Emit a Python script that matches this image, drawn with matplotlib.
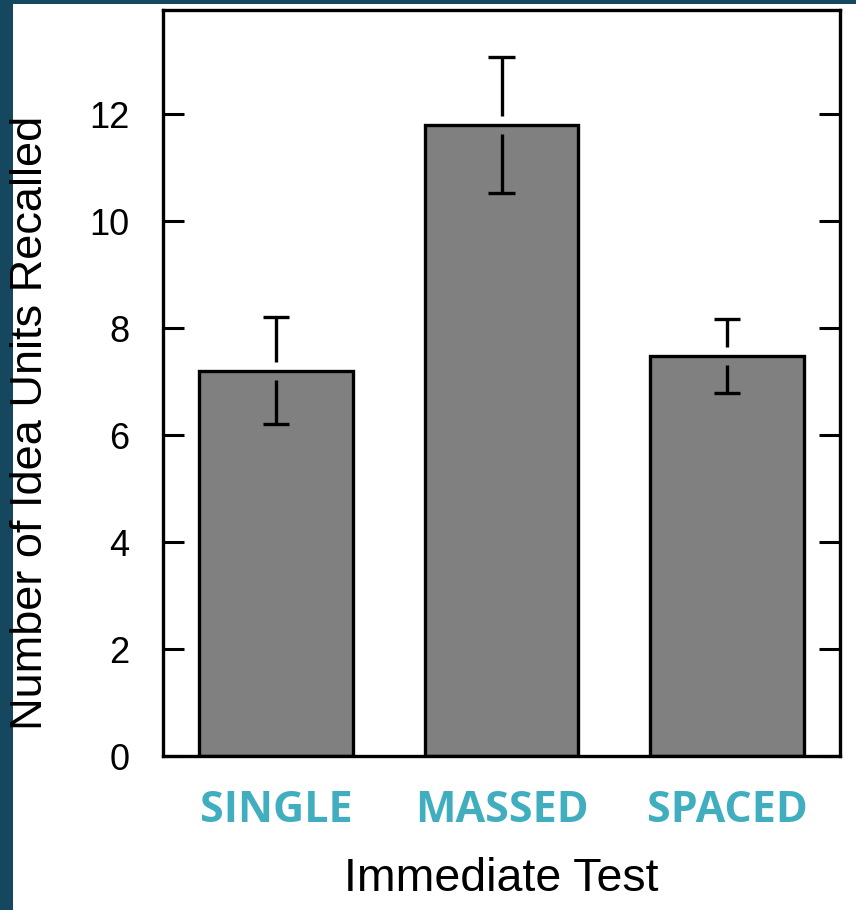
import matplotlib
matplotlib.use("Agg")
import matplotlib.pyplot as plt
from matplotlib.patches import Rectangle

# Mean idea units recalled on the immediate test, with error bars
conditions = ["SINGLE", "MASSED", "SPACED"]
means = [7.2, 11.8, 7.48]
errors = [1.0, 1.28, 0.69]
yticks = [0, 2, 4, 6, 8, 10, 12]

W, H, DPI = 856, 910, 100
fig = plt.figure(figsize=(W / DPI, H / DPI), dpi=DPI)
fig.patch.set_facecolor("white")

# dark frame strips along the left and top edges
frame_col = "#15475f"
fig.add_artist(Rectangle((0, 0), 12.5 / W, 1, transform=fig.transFigure,
                         facecolor=frame_col, edgecolor="none", zorder=0))
fig.add_artist(Rectangle((0, 1 - 3.5 / H), 1, 3.5 / H, transform=fig.transFigure,
                         facecolor=frame_col, edgecolor="none", zorder=0))

left, right = 163 / W, 840 / W
bottom, top = 1 - 756 / H, 1 - 10 / H
ax = fig.add_axes([left, bottom, right - left, top - bottom])

x = list(range(len(conditions)))
ax.bar(x, means, width=0.68, color="#808080", edgecolor="black",
       linewidth=2.4, zorder=2)

# error bars drawn in two pieces, leaving a gap around the bar top
gap = 0.17
cap = 0.058
for xi, m, e in zip(x, means, errors):
    ax.vlines(xi, m + gap, m + e, color="black", linewidth=2.4, zorder=3)
    ax.vlines(xi, m - e, m - gap, color="black", linewidth=2.4, zorder=3)
    ax.hlines([m + e, m - e], xi - cap, xi + cap, color="black",
              linewidth=2.4, zorder=3)

ax.set_xlim(-0.5, 2.5)
ax.set_ylim(0, 13.95)
ax.set_yticks(yticks)
ax.set_yticklabels([str(t) for t in yticks], family="Liberation Sans")
ax.tick_params(axis="y", direction="in", length=15, width=2.2, pad=24,
               left=True, right=True, labelsize=26)
ax.set_xticks(x)
ax.set_xticklabels(conditions, fontweight="bold",
                   family="Open Sans", color="#41aec0")
ax.tick_params(axis="x", length=0, pad=24, labelsize=31)
for s in ax.spines.values():
    s.set_linewidth(2.4)

ax.set_ylabel("Number of Idea Units Recalled", fontsize=32.5,
              family="Liberation Sans")
ax.yaxis.set_label_coords(-0.165, 0.446)
ax.set_xlabel("Immediate Test", fontsize=33.5, family="Liberation Sans",
              labelpad=18)

fig.savefig("out.png", dpi=DPI, facecolor="white")
